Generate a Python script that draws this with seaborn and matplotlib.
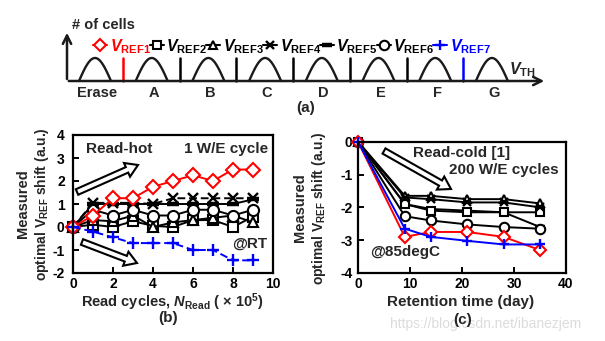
import numpy as np
import matplotlib
matplotlib.use("Agg")
import matplotlib.pyplot as plt
import matplotlib.patches as mpatches
import seaborn as sns

# ---------------- data ----------------
read_cycles = [0, 1, 2, 3, 4, 5, 6, 7, 8, 9]
b_vref1 = [0, 0.5, 1.25, 1.25, 1.75, 2.0, 2.25, 2.0, 2.5, 2.5]
b_vref2 = [0, 0.1, 0.0, 0.25, 0.05, 0.0, 0.3, 0.3, 0.0, 0.45]
b_vref3 = [0, 0.3, 0.25, 0.5, 0.0, 0.2, 0.3, 0.4, 0.5, 0.2]
b_vref4 = [0, 1.05, 1.05, 1.05, 1.0, 1.25, 1.25, 1.25, 1.25, 1.25]
b_vref5 = [0, 1.0, 1.0, 1.0, 1.0, 1.0, 1.0, 1.0, 1.0, 1.2]
b_vref6 = [0, 0.75, 0.5, 0.75, 0.5, 0.5, 0.75, 0.75, 0.5, 0.75]
b_vref7 = [0, -0.2, -0.45, -0.7, -0.7, -0.7, -1.0, -1.0, -1.45, -1.45]

retention_days = [0, 9, 14, 21, 28, 35]
c_vref1 = [0, -2.9, -2.75, -2.75, -2.9, -3.3]
c_vref2 = [0, -1.9, -2.1, -2.15, -2.15, -2.15]
c_vref3 = [0, -1.65, -1.65, -1.75, -1.75, -1.88]
c_vref4 = [0, -1.7, -1.75, -1.85, -1.85, -2.0]
c_vref5 = [0, -1.9, -2.05, -2.1, -2.15, -2.6]
c_vref6 = [0, -2.27, -2.4, -2.52, -2.6, -2.65]
c_vref7 = [0, -2.65, -2.9, -3.02, -3.13, -3.13]

levels = ["Erase", "A", "B", "C", "D", "E", "F", "G"]
vref_labels = ["REF1", "REF2", "REF3", "REF4", "REF5", "REF6", "REF7"]
b_xticks = [0, 2, 4, 6, 8, 10]
b_yticks = [-2, -1, 0, 1, 2, 3, 4]
c_xticks = [0, 10, 20, 30, 40]
c_yticks = [-4, -3, -2, -1, 0]

RED = "#ff0000"
BLUE = "#0000ff"
BLK = "#000000"
colors = [RED, BLK, BLK, BLK, BLK, BLK, BLUE]
markers = ["D", "s", "^", "x", "_", "o", "+"]

# ---------------- style ----------------
sns.set_theme(style="ticks")
plt.rcParams["font.family"] = ["Liberation Sans", "DejaVu Sans"]
plt.rcParams["font.weight"] = "bold"
plt.rcParams["axes.unicode_minus"] = False
plt.rcParams["mathtext.fontset"] = "custom"
plt.rcParams["mathtext.rm"] = "Liberation Sans:bold"
plt.rcParams["mathtext.it"] = "Liberation Sans:italic:bold"
plt.rcParams["mathtext.bf"] = "Liberation Sans:bold"
plt.rcParams["axes.linewidth"] = 1.6
plt.rcParams["axes.edgecolor"] = "black"
plt.rcParams["xtick.direction"] = "in"
plt.rcParams["ytick.direction"] = "in"
plt.rcParams["xtick.major.size"] = 4
plt.rcParams["ytick.major.size"] = 4
plt.rcParams["xtick.major.width"] = 1.4
plt.rcParams["ytick.major.width"] = 1.4
plt.rcParams["xtick.color"] = "black"
plt.rcParams["ytick.color"] = "black"

W, H = 605, 341
fig = plt.figure(figsize=(W / 100, H / 100), dpi=100)
fig.patch.set_facecolor("white")


def frac(l, t, r, b):
    return [l / W, 1 - b / H, (r - l) / W, (b - t) / H]


axb = fig.add_axes(frac(73, 135, 273, 273))
axc = fig.add_axes(frac(358, 141.7, 566, 273))


def style(i, ms_scale=1.0):
    m = markers[i]
    c = colors[i]
    kw = dict(color=c, marker=m, markeredgecolor=c, linewidth=1.4)
    if m in ("D", "s", "^", "o"):
        kw.update(markerfacecolor="white", markeredgewidth=1.5)
    size = {"D": 7, "s": 7, "^": 7.5, "x": 7, "_": 8, "o": 8, "+": 8.5}[m]
    if m == "_":
        kw.update(markeredgewidth=3.2)
    elif m in ("x", "+"):
        kw.update(markeredgewidth=1.7)
    kw["markersize"] = size * ms_scale
    return kw


# ---------------- panel (b) ----------------
b_series = [b_vref1, b_vref2, b_vref3, b_vref4, b_vref5, b_vref6, b_vref7]
order_b = [4, 1, 2, 5, 3, 0, 6]
for i in order_b:
    kw = style(i)
    if i in (3, 6):
        kw["linestyle"] = (0, (4, 2))
    sns.lineplot(x=read_cycles, y=b_series[i], ax=axb, clip_on=False, **kw)
axb.set_xlim(0, 10)
axb.set_ylim(-2, 4)
axb.set_xticks(b_xticks)
axb.set_yticks(b_yticks)
axb.tick_params(axis="y", labelsize=10, pad=6)
axb.tick_params(axis="x", labelsize=10, pad=3)
for s in axb.spines.values():
    s.set_visible(True)
    s.set_linewidth(1.6)

# ---------------- panel (c) ----------------
c_series = [c_vref1, c_vref2, c_vref3, c_vref4, c_vref5, c_vref6, c_vref7]
order_c = [4, 1, 2, 3, 5, 0, 6]
for i in order_c:
    kw = style(i, 0.85)
    sns.lineplot(x=retention_days, y=c_series[i], ax=axc, clip_on=False, **kw)
axc.set_xlim(0, 40)
axc.set_ylim(-4, 0)
axc.set_xticks(c_xticks)
axc.set_yticks(c_yticks)
axc.tick_params(axis="y", labelsize=10, pad=4)
axc.tick_params(axis="x", labelsize=10, pad=3)
for s in axc.spines.values():
    s.set_visible(True)
    s.set_linewidth(1.6)

for ax in (axb, axc):
    ax.set_xlabel("")
    ax.set_ylabel("")
    for lab in ax.get_xticklabels() + ax.get_yticklabels():
        lab.set_fontweight("bold")

# ---------------- overlay (pixel coords) ----------------
ov = fig.add_axes([0, 0, 1, 1])
ov.set_xlim(0, W)
ov.set_ylim(H, 0)
ov.axis("off")

# panel (a) schematic
base, peak_h, half_w = 81, 23, 16
x_first, pitch = 95, 56.7
ov.annotate("", xy=(67, 30), xytext=(67, base + 0.8),
            arrowprops=dict(arrowstyle="->,head_length=0.5,head_width=0.25", lw=1.8, color="k"))
ov.annotate("", xy=(547, base), xytext=(66, base),
            arrowprops=dict(arrowstyle="->,head_length=0.5,head_width=0.25", lw=1.8, color="k"))
ov.text(72, 29, "# of cells", fontsize=10.5, fontweight="bold", va="baseline")
t = np.linspace(-1, 1, 60)
for k, lab in enumerate(levels):
    c = x_first + k * pitch
    ov.plot(c + half_w * t, base - peak_h * np.cos(np.pi / 2 * t), color="k", lw=1.7)
    ov.text(c + 2, 93, lab, fontsize=10.5, fontweight="bold", ha="center", va="center")
for j, name in enumerate(vref_labels):
    col = colors[j]
    xl = x_first + j * pitch + 28
    ov.plot([xl, xl], [base, base - peak_h], color=col, lw=1.8)
    ix = xl - 23
    ov.plot([ix - 7, ix + 7], [44.5, 44.5], color=col, lw=1.5)
    kw = style(j, 0.85)
    kw.pop("linewidth")
    ov.plot([ix], [44.5], linestyle="none", **kw)
    ov.text(ix + 9.5, 51.5, r"$V_{\mathrm{%s}}$" % name, color=col, fontsize=11.5, va="baseline")
ov.text(509, 74, r"$V_{\mathrm{TH}}$", fontsize=11.5, va="baseline")
ov.text(306, 108, "(a)", fontsize=11, fontweight="bold", ha="center", va="center")

# panel (b) annotations
ov.text(23, 204, "Measured", rotation=90, fontsize=10.5, ha="center", va="center")
ov.text(42, 204, r"optimal V$_{\mathrm{REF}}$ shift (a.u.)", rotation=90, fontsize=10,
        ha="center", va="center")
ov.text(172, 302, r"Read cycles, $N_{\mathrm{Read}}$ ( × 10$^{\mathrm{5}}$)", fontsize=10.5,
        ha="center", va="center")
ov.text(168, 318, "(b)", fontsize=11, ha="center", va="center")
ov.text(86, 153, "Read-hot", fontsize=11, va="baseline")
ov.text(268, 153, "1 W/E cycle", fontsize=11, ha="right", va="baseline")
ov.text(267, 248, "@RT", fontsize=11, ha="right", va="baseline")

arrow_kw = dict(width=6, head_width=15, head_length=12, length_includes_head=True,
                fc="white", ec="black", lw=1.5)
ov.add_patch(mpatches.FancyArrow(77, 192, 138 - 77, 165 - 192, **arrow_kw))
ov.add_patch(mpatches.FancyArrow(82, 242, 137 - 82, 263 - 242, **arrow_kw))

# panel (c) annotations
ov.text(300, 208, "Measured", rotation=90, fontsize=10.5, ha="center", va="center")
ov.text(319, 208, r"optimal V$_{\mathrm{REF}}$ shift (a.u.)", rotation=90, fontsize=10,
        ha="center", va="center")
ov.text(461, 302, "Retention time (day)", fontsize=11, ha="center", va="center")
ov.text(463, 320, "(c)", fontsize=11, ha="center", va="center")
ov.text(413, 157, "Read-cold [1]", fontsize=11, va="baseline")
ov.text(559, 174, "200 W/E cycles", fontsize=11, ha="right", va="baseline")
ov.text(370, 256, "@85degC", fontsize=11, va="baseline")
ov.add_patch(mpatches.FancyArrow(384, 151, 451 - 384, 189 - 151, **arrow_kw))

ov.text(486, 324, "https://blog.csdn.net/ibanezjem", fontsize=10, fontweight="normal",
        color="#dcdcdc", ha="center", va="center", zorder=0)

fig.savefig("out.png", dpi=100, facecolor="white")
